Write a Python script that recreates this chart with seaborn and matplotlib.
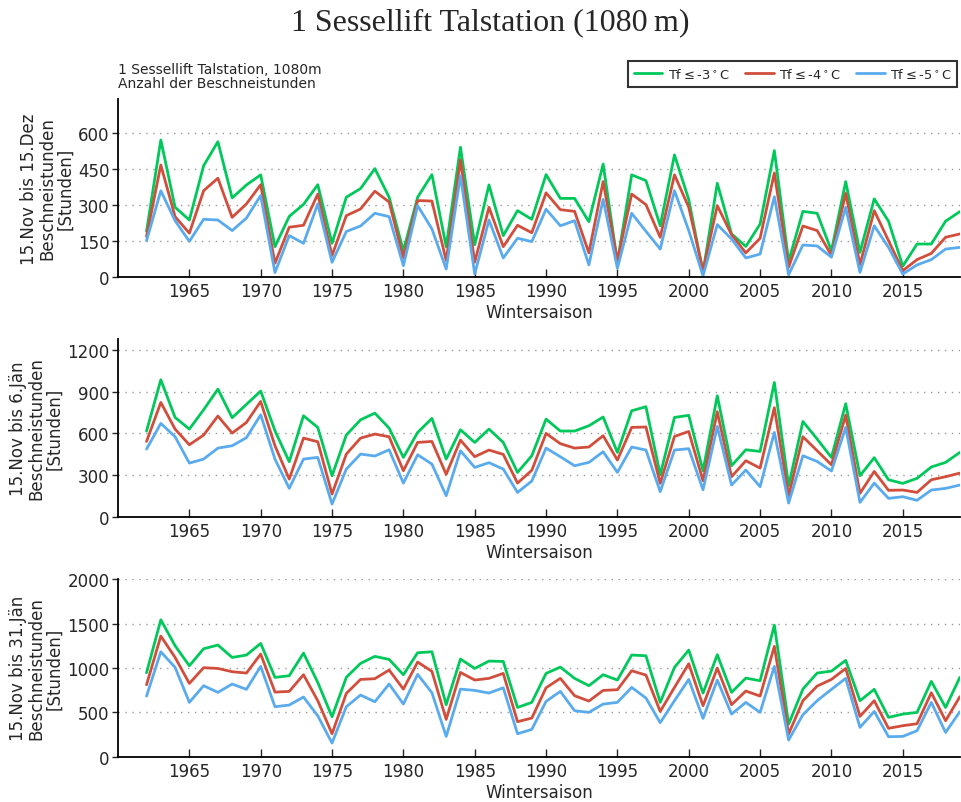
import pandas as pd
import seaborn as sns
import matplotlib.pyplot as plt
import numpy as np

# Wintersaisonen
years = list(range(1962, 2020))

# 15.Nov bis 15.Dez
dez_m3 = [189, 569, 289, 236, 462, 562, 328, 382, 424, 125, 251, 301, 383, 139, 331, 367, 450, 331, 108, 331,
          425, 125, 539, 133, 382, 171, 275, 239,
          425, 326, 326, 229, 469, 60, 424, 400, 212, 507, 321, 18, 389, 178, 126, 219, 525, 64, 272, 264,
          108, 396, 101, 324, 231, 44, 136, 136, 231, 271]
dez_m4 = [167, 465, 250, 181, 358, 410, 247, 303, 383, 56, 206, 214, 344, 88, 254, 282, 356, 311, 78, 317,
          315, 67, 486, 60, 289, 125, 214, 183,
          349, 279, 272, 99, 396, 67, 344, 300, 164, 424, 289, 25, 296, 175, 99, 160, 432, 39, 211, 192,
          89, 347, 50, 275, 150, 25, 71, 97, 164, 178]
dez_m5 = [150, 358, 233, 147, 239, 236, 192, 244, 338, 17, 171, 139, 303, 60, 188, 211, 264, 250, 46, 296,
          199, 32, 421, 11, 236, 78, 160, 146,
          281, 212, 233, 49, 322, 35, 264, 189, 115, 358, 192, 4, 217, 157, 78, 94, 333, 8, 132, 128,
          81, 289, 18, 212, 122, 11, 49, 71, 115, 122]

# 15.Nov bis 6.Jän
jan6_m3 = [617, 986, 715, 631, 770, 919, 713, 809, 905, 619, 396, 727, 643, 295, 588, 698, 746, 638, 427, 607,
           708, 415, 626, 535, 631, 535, 319, 439,
           703, 617, 617, 655, 718, 463, 763, 792, 302, 715, 730, 331, 871, 367, 482, 470, 967, 223, 686, 559,
           427, 814, 295, 425, 266, 240, 276, 358, 391, 463]
jan6_m4 = [542, 823, 631, 518, 588, 725, 602, 679, 830, 511, 271, 566, 540, 163, 451, 566, 595, 576, 331, 535,
           542, 305, 552, 432, 480, 449, 242, 334,
           600, 526, 494, 502, 583, 408, 643, 646, 240, 578, 614, 259, 756, 288, 403, 350, 785, 151, 576, 475,
           374, 732, 168, 326, 190, 192, 175, 266, 288, 314]
jan6_m5 = [487, 672, 576, 386, 415, 494, 511, 569, 734, 415, 204, 415, 427, 91, 343, 451, 437, 482, 242, 446,
           379, 151, 475, 355, 389, 343, 175, 257,
           494, 432, 367, 391, 468, 319, 502, 480, 180, 480, 490, 194, 650, 228, 336, 216, 607, 98, 439, 398,
           329, 643, 103, 242, 132, 144, 118, 192, 204, 228]

# 15.Nov bis 31.Jän
jan31_m3 = [948, 1545, 1252, 1026, 1218, 1260, 1120, 1147, 1278, 895, 914, 1169, 838, 451, 895, 1053, 1132, 1098,
            925, 1173, 1184, 587, 1102, 996, 1079, 1075, 556, 613,
            940, 1011, 884, 801, 925, 865, 1147, 1139, 613, 1008, 1203, 718, 1151, 726, 887, 857, 1485, 368,
            763, 944, 966, 1087, 632, 760, 444, 481, 500, 850, 556, 895]
jan31_m4 = [812, 1361, 1120, 827, 1004, 996, 959, 944, 1158, 729, 737, 925, 632, 259, 714, 872, 880, 978,
            763, 1068, 963, 421, 951, 865, 884, 940, 395, 436,
            778, 884, 688, 628, 748, 756, 970, 921, 511, 782, 1049, 575, 1000, 587, 741, 684, 1245, 256,
            632, 797, 872, 996, 455, 632, 320, 350, 372, 722, 406, 677]
jan31_m5 = [684, 1184, 1008, 613, 801, 726, 820, 760, 1019, 564, 583, 673, 462, 154, 564, 696, 620, 820,
            594, 929, 722, 229, 763, 748, 718, 778, 259, 308,
            624, 737, 519, 500, 594, 613, 782, 662, 384, 632, 872, 432, 865, 481, 613, 500, 1019, 188,
            474, 632, 760, 884, 331, 511, 226, 229, 293, 613, 274, 508]

series_labels = [r'Tf$\leq$-3$^\circ$C', r'Tf$\leq$-4$^\circ$C', r'Tf$\leq$-5$^\circ$C']
colors = ['#00c85a', '#d24e3c', '#5aabee']

panels = [
    ("15.Nov bis 15.Dez\nBeschneistunden\n[Stunden]", [dez_m3, dez_m4, dez_m5], 740, [0, 150, 300, 450, 600]),
    ("15.Nov bis 6.Jän\nBeschneistunden\n[Stunden]", [jan6_m3, jan6_m4, jan6_m5], 1280, [0, 300, 600, 900, 1200]),
    ("15.Nov bis 31.Jän\nBeschneistunden\n[Stunden]", [jan31_m3, jan31_m4, jan31_m5], 2005, [0, 500, 1000, 1500, 2000]),
]

sns.set_style("white")
plt.rcParams['font.family'] = ['DejaVu Sans']

fig = plt.figure(figsize=(9.61, 8.03), dpi=100)
bottoms = [0.6542, 0.3553, 0.0564]

for i, (ylab, vals, ytop, yticks) in enumerate(panels):
    ax = fig.add_axes([0.1228, bottoms[i], 0.876, 0.2213])
    df = pd.DataFrame({
        "year": years * 3,
        "hours": vals[0] + vals[1] + vals[2],
        "serie": sum([[lab] * len(years) for lab in series_labels], []),
    })
    sns.lineplot(data=df, x="year", y="hours", hue="serie", palette=colors,
                 linewidth=2, ax=ax, legend=(i == 0))
    ax.set_xlim(1960, 2019)
    ax.set_ylim(0, ytop)
    ax.set_yticks(yticks)
    ax.set_xticks([1965, 1970, 1975, 1980, 1985, 1990, 1995, 2000, 2005, 2010, 2015])
    ax.yaxis.grid(True, linestyle=(0, (1, 4)), color='#999999', linewidth=1)
    ax.set_axisbelow(True)
    for s in ['top', 'right']:
        ax.spines[s].set_visible(False)
    for s in ['left', 'bottom']:
        ax.spines[s].set_color('black')
        ax.spines[s].set_linewidth(1.3)
    ax.tick_params(axis='y', direction='out', length=4, width=1, labelsize=12, left=True, pad=2)
    ax.tick_params(axis='x', direction='in', length=6, width=1, labelsize=12, bottom=True, pad=4)
    ax.set_xlabel("Wintersaison", fontsize=12, labelpad=2)
    ax.set_ylabel(ylab, fontsize=12, labelpad=3, linespacing=1.0)
    if i == 0:
        leg = ax.legend(loc='upper right', bbox_to_anchor=(0.997, 1.215), ncol=3,
                        fontsize=9.4, frameon=True, fancybox=False, borderaxespad=0,
                        handlelength=2.2, columnspacing=1.2, handletextpad=0.4,
                        borderpad=0.45)
        leg.get_frame().set_edgecolor('black')
        leg.get_frame().set_linewidth(1.5)
        ax.text(0.0, 1.05, "1 Sessellift Talstation, 1080m\nAnzahl der Beschneistunden",
                transform=ax.transAxes, fontsize=10, va='bottom', ha='left', linespacing=1.05)

fig.text(0.51, 0.972, "1 Sessellift Talstation (1080\u2009m)", ha='center', va='center',
         fontsize=23, family=['Liberation Serif', 'DejaVu Serif'])

plt.savefig("out.png", dpi=100)
